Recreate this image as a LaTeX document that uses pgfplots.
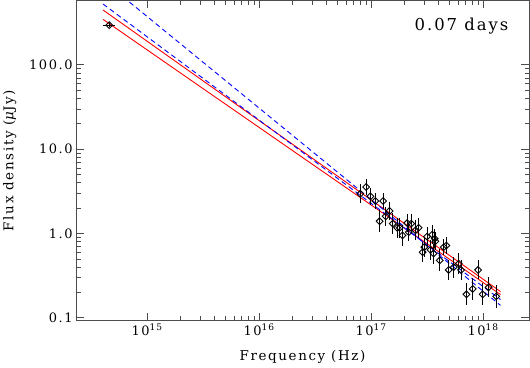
\documentclass[border=0pt]{standalone}
\usepackage{fontspec}
\setmainfont{DejaVu Serif}[LetterSpace=12]
\usepackage{pgfplots}
\pgfplotsset{compat=1.18}

% X-ray spectrum points: frequency (Hz), flux (uJy), error plus, error minus
\pgfplotstableread{
nu       F     ep     em
8.02e16  2.97  0.86   0.67
9.02e16  3.56  0.92   0.73
9.86e16  2.76  0.71   0.57
1.09e17  2.43  0.63   0.50
1.28e17  2.43  0.63   0.50
1.19e17  1.40  0.49   0.36
1.35e17  1.60  0.46   0.36
1.46e17  1.85  0.53   0.41
1.56e17  1.31  0.42   0.32
1.71e17  1.17  0.37   0.28
1.80e17  1.17  0.37   0.28
1.91e17  0.95  0.30   0.23
2.10e17  1.33  0.38   0.30
2.28e17  1.31  0.38   0.29
2.17e17  1.04  0.30   0.23
2.49e17  1.09  0.35   0.26
2.66e17  1.17  0.37   0.28
2.89e17  0.60  0.19   0.14
2.99e17  0.69  0.22   0.17
3.16e17  0.92  0.27   0.21
3.51e17  0.97  0.28   0.22
3.75e17  0.81  0.23   0.18
3.70e17  0.87  0.25   0.19
3.39e17  0.64  0.20   0.15
3.62e17  0.58  0.18   0.14
4.10e17  0.48  0.17   0.12
4.45e17  0.69  0.18   0.14
4.70e17  0.72  0.19   0.15
4.93e17  0.37  0.12   0.09
5.47e17  0.40  0.13   0.10
6.06e17  0.44  0.14   0.11
6.36e17  0.37  0.12   0.09
9.02e17  0.37  0.11   0.08
7.10e17  0.19  0.067  0.049
8.08e17  0.22  0.077  0.057
9.91e17  0.19  0.067  0.049
1.12e18  0.23  0.073  0.055
1.31e18  0.18  0.068  0.050
}\xraydata

\begin{document}
\begin{tikzpicture}
\begin{axis}[
  xmode=log, ymode=log,
  scale only axis, width=453bp, height=320bp,
  xmin=2.32e14, xmax=2.57e18, ymin=0.093, ymax=580,
  xtick={1e15,1e16,1e17,1e18},
  xticklabels={10\textsuperscript{15},10\textsuperscript{16},10\textsuperscript{17},10\textsuperscript{18}},
  ytick={0.1,1,10,100},
  yticklabels={0.1,1.0,10.0,100.0},
  tick align=inside,
  major tick length=8bp, minor tick length=4.5bp,
  axis line style={black!70, line width=0.8bp},
  every tick/.style={black!70, line width=0.8bp},
  tick label style={font=\fontsize{13}{15}\selectfont},
  yticklabel style={xshift=0bp},
  label style={font=\fontsize{13.5}{16}\selectfont},
  xlabel={Frequency (Hz)},
  ylabel={Flux density ({\itshape μ}Jy)},
  xlabel style={at={(axis description cs:0.5,-0.115)}, anchor=center},
  ylabel style={at={(axis description cs:-0.146,0.5)}, anchor=center},
  error bars/error bar style={black, line width=0.9bp},
  error bars/error mark=none,
]
% model power laws
\addplot[red, line width=0.9bp] coordinates {(4.05e14,446.7) (1.43e18,0.205)};
\addplot[red, line width=0.9bp] coordinates {(4.05e14,346) (1.43e18,0.189)};
\addplot[blue, line width=0.9bp, dash pattern=on 5bp off 3.5bp] coordinates {(4.05e14,526) (1.43e18,0.165)};
\addplot[blue, line width=0.9bp, dash pattern=on 5bp off 3.5bp] coordinates {(4.05e14,1000) (1.43e18,0.1406)};
% optical point
\addplot[only marks, mark=square, mark size=2.4bp,
  mark options={rotate=45, black, line width=0.9bp, fill=none},
  error bars/.cd, x dir=both, x explicit, y dir=both, y explicit]
  coordinates {(4.6e14,296) +- (0.55e14,15)};
% X-ray points
\addplot[only marks, mark=square, mark size=2.4bp,
  mark options={rotate=45, black, line width=0.9bp, fill=none},
  error bars/.cd, y dir=both, y explicit]
  table[x=nu, y=F, y error plus=ep, y error minus=em] {\xraydata};
\node[font=\fontsize{16.5}{19}\selectfont, anchor=center] at (rel axis cs:0.851,0.92) {0.07 days};
\end{axis}
\pgfresetboundingbox
\useasboundingbox (-76bp,-47.5bp) rectangle (454bp,320.5bp);
\end{tikzpicture}
\end{document}
